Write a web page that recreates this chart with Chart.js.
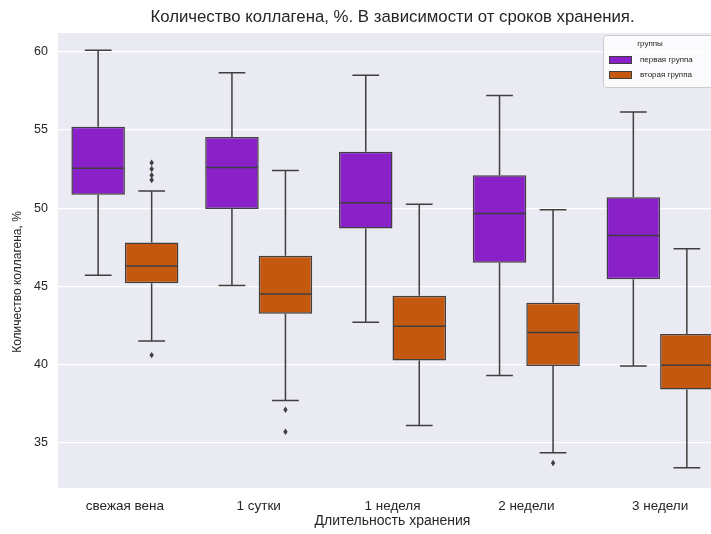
<!DOCTYPE html>
<html>
<head>
<meta charset="utf-8">
<script src="https://cdn.jsdelivr.net/npm/chart.js@4/dist/chart.umd.min.js"></script>
<style>
  html, body { margin: 0; padding: 0; background: #fff; overflow: hidden; }
  #wrap { width: 740px; height: 534px; }
</style>
</head>
<body>
<div id="wrap"><canvas id="grafico" width="740" height="534"></canvas></div>
<script>
// categorias y estadisticos
var categorias = ["свежая вена", "1 сутки", "1 неделя", "2 недели", "3 недели"];
var grupos = ["первая группа", "вторая группа"];

var g1Min = [45.7, 45.05, 42.7, 39.3, 39.9];
var g1Q1 = [50.85, 49.95, 48.7, 46.5, 45.45];
var g1Med = [52.55, 52.6, 50.35, 49.65, 48.25];
var g1Q3 = [55.2, 54.55, 53.6, 52.1, 50.7];
var g1Max = [60.1, 58.65, 58.5, 57.2, 56.15];
var g1Out = [[], [], [], [], []];

var g2Min = [41.5, 37.7, 36.1, 34.35, 33.4];
var g2Q1 = [45.2, 43.25, 40.25, 39.9, 38.4];
var g2Med = [46.3, 44.5, 42.45, 42.05, 39.95];
var g2Q3 = [47.8, 46.95, 44.4, 43.95, 41.95];
var g2Max = [51.1, 52.4, 50.25, 49.9, 47.4];
var g2Out = [[52.9, 52.5, 52.1, 51.8, 40.6], [37.1, 35.7], [], [33.7], []];

var yTicks = [35, 40, 45, 50, 55, 60];

var colores = ["#8a20c8", "#c4580f"];
var gris = "#3f3f3f";
var fuente = "'Liberation Sans', Arial, sans-serif";

var extras = [
    { min: g1Min, med: g1Med, max: g1Max, out: g1Out },
    { min: g2Min, med: g2Med, max: g2Max, out: g2Out }
];

function rango(q1, q3) {
    return q1.map(function (v, i) { return [v, q3[i]]; });
}

var fondo = {
    id: "fondo",
    beforeDraw: function (chart) {
        var a = chart.chartArea, ctx = chart.ctx;
        ctx.save();
        ctx.fillStyle = "#eaeaf2";
        ctx.fillRect(a.left, a.top, a.right - a.left, a.bottom - a.top);
        ctx.restore();
    }
};

var cajas = {
    id: "cajas",
    afterDatasetsDraw: function (chart) {
        var ctx = chart.ctx, y = chart.scales.y;
        ctx.save();
        ctx.strokeStyle = gris;
        ctx.fillStyle = gris;
        ctx.lineWidth = 1.5;
        extras.forEach(function (e, di) {
            var meta = chart.getDatasetMeta(di);
            meta.data.forEach(function (bar, i) {
                var x = bar.x, w = bar.width;
                var top = Math.min(bar.y, bar.base), bot = Math.max(bar.y, bar.base);
                var yMax = y.getPixelForValue(e.max[i]);
                var yMin = y.getPixelForValue(e.min[i]);
                var yMed = y.getPixelForValue(e.med[i]);
                ctx.beginPath();
                // bigotes
                ctx.moveTo(x, top); ctx.lineTo(x, yMax);
                ctx.moveTo(x, bot); ctx.lineTo(x, yMin);
                ctx.moveTo(x - w / 4, yMax); ctx.lineTo(x + w / 4, yMax);
                ctx.moveTo(x - w / 4, yMin); ctx.lineTo(x + w / 4, yMin);
                // mediana
                ctx.moveTo(x - w / 2 + 1, yMed); ctx.lineTo(x + w / 2 - 1, yMed);
                ctx.stroke();
                e.out[i].forEach(function (v) {
                    var py = y.getPixelForValue(v);
                    ctx.beginPath();
                    ctx.moveTo(x, py - 3.2);
                    ctx.lineTo(x + 2.2, py);
                    ctx.lineTo(x, py + 3.2);
                    ctx.lineTo(x - 2.2, py);
                    ctx.closePath();
                    ctx.fill();
                });
            });
        });
        ctx.restore();
    }
};

var textos = {
    id: "textos",
    afterDraw: function (chart) {
        var a = chart.chartArea, ctx = chart.ctx;
        ctx.save();
        ctx.fillStyle = "#262626";
        ctx.font = "16.8px " + fuente;
        ctx.textAlign = "center";
        ctx.textBaseline = "middle";
        ctx.fillText("Количество коллагена, %. В зависимости от сроков хранения.", (a.left + a.right) / 2, 17);
        // titulo eje x
        ctx.font = "14px " + fuente;
        ctx.fillText("Длительность хранения", (a.left + a.right) / 2, 521);
        // titulo eje y
        ctx.font = "12px " + fuente;
        ctx.translate(18, 282);
        ctx.rotate(-Math.PI / 2);
        ctx.fillText("Количество коллагена, %", 0, 0);
        ctx.restore();
    }
};

var leyenda = {
    id: "leyenda",
    afterDraw: function (chart) {
        var ctx = chart.ctx;
        ctx.save();
        ctx.fillStyle = "rgba(255,255,255,0.8)";
        ctx.strokeStyle = "#cccccc";
        ctx.lineWidth = 1;
        ctx.beginPath();
        ctx.roundRect(603.5, 35.5, 140, 52, 3);
        ctx.fill();
        ctx.stroke();
        ctx.fillStyle = "#262626";
        ctx.font = "8px " + fuente;
        ctx.textBaseline = "middle";
        ctx.textAlign = "center";
        ctx.fillText("группы", 650, 44);
        ctx.textAlign = "left";
        grupos.forEach(function (g, i) {
            var yy = 60 + i * 15;
            ctx.fillStyle = colores[i];
            ctx.fillRect(609, yy - 4, 23, 8);
            ctx.strokeStyle = gris;
            ctx.strokeRect(609.5, yy - 3.5, 22, 7);
            ctx.fillStyle = "#262626";
            ctx.fillText(g, 640, yy);
        });
        ctx.restore();
    }
};

new Chart(document.getElementById("grafico"), {
    type: "bar",
    data: {
        labels: categorias,
        datasets: [
            {
                label: grupos[0],
                data: rango(g1Q1, g1Q3),
                backgroundColor: colores[0],
                borderColor: gris,
                borderWidth: 1.5,
                borderSkipped: false,
                categoryPercentage: 0.8,
                barPercentage: 1.0
            },
            {
                label: grupos[1],
                data: rango(g2Q1, g2Q3),
                backgroundColor: colores[1],
                borderColor: gris,
                borderWidth: 1.5,
                borderSkipped: false,
                categoryPercentage: 0.8,
                barPercentage: 1.0
            }
        ]
    },
    options: {
        responsive: false,
        animation: false,
        layout: { padding: { top: 33, right: 13, left: 0, bottom: 0 } },
        plugins: {
            legend: { display: false },
            title: { display: false },
            tooltip: { enabled: false }
        },
        scales: {
            x: {
                grid: { display: false, drawTicks: false },
                border: { display: false },
                ticks: { color: "#262626", font: { family: fuente, size: 13.5 }, padding: 10, maxRotation: 0 },
                afterFit: function (s) { s.height = 46; }
            },
            y: {
                min: 32.1,
                max: 61.2,
                afterBuildTicks: function (s) {
                    s.ticks = yTicks.map(function (v) { return { value: v }; });
                },
                grid: { color: "#ffffff", lineWidth: 1.2, drawTicks: false },
                border: { display: false },
                ticks: { color: "#262626", font: { family: fuente, size: 12.5 }, padding: 10 },
                afterFit: function (s) { s.width = 58; }
            }
        }
    },
    plugins: [fondo, cajas, textos, leyenda]
});
</script>
</body>
</html>
